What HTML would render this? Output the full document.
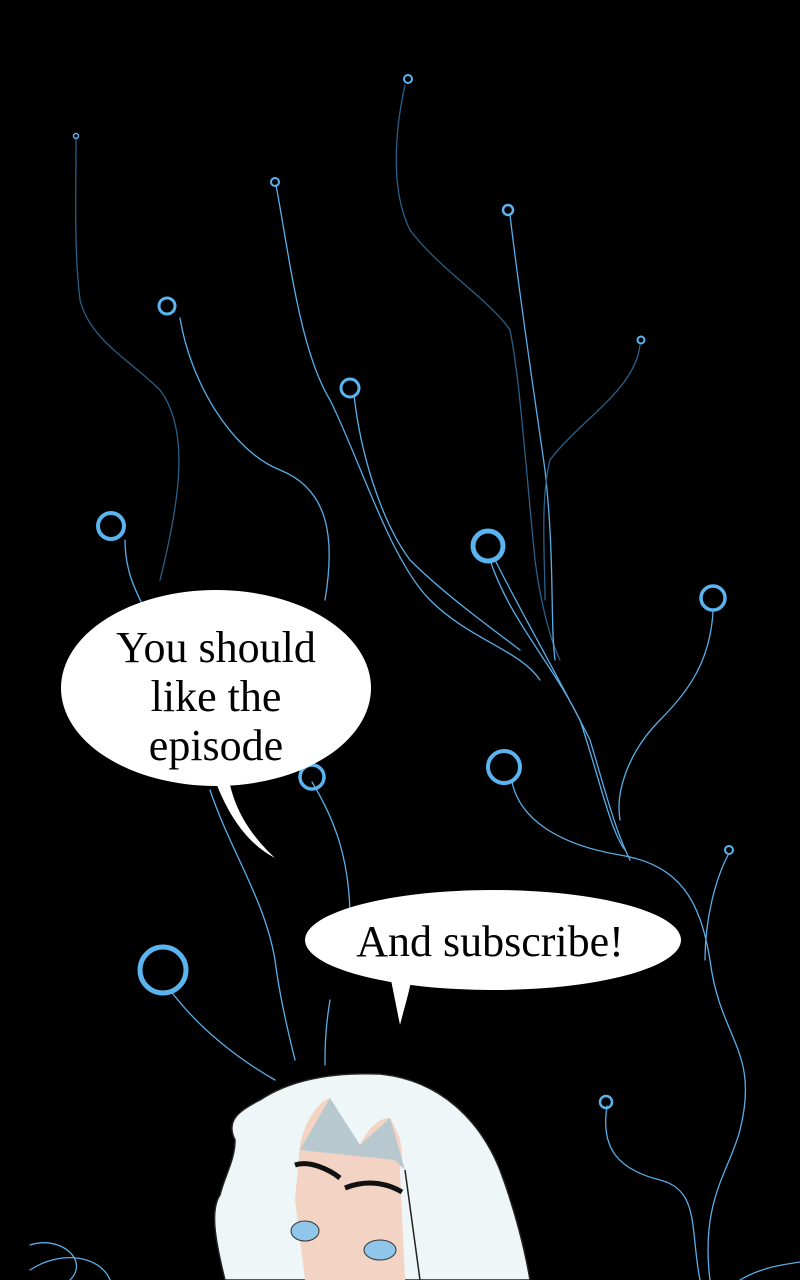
<!DOCTYPE html>
<html><head><style>
html,body{margin:0;padding:0;background:#000;}
body{width:800px;height:1280px;position:relative;overflow:hidden;font-family:"Liberation Serif",serif;}
svg{position:absolute;left:0;top:0;}
</style></head><body>
<svg width="800" height="1280" viewBox="0 0 800 1280">
<g fill="none" stroke="#5aaee8" stroke-width="1.3" stroke-linecap="round">
<path d="M76 138 C76 200 74 250 80 300 C90 340 130 360 160 390 C190 430 180 500 160 580" stroke="#2a5f88"/>
<path d="M180 318 C190 380 230 450 280 470 C330 490 335 540 325 600"/>
<path d="M276 185 C290 260 300 350 330 400 C360 460 390 560 430 600 C470 640 520 650 540 680"/>
<path d="M354 395 C360 450 380 520 410 560 C440 590 480 620 520 650"/>
<path d="M405 85 C395 130 390 190 410 230 C440 270 490 300 510 330 C520 380 525 460 535 560 C540 600 550 640 560 660" stroke="#2a5f88"/>
<path d="M510 215 C520 300 535 400 545 470 C555 560 550 620 555 660"/>
<path d="M640 345 C635 390 580 420 550 460 C540 500 545 560 545 600" stroke="#2a5f88"/>
<path d="M490 560 C510 620 550 660 580 720 C600 780 610 830 625 850"/>
<path d="M495 560 C520 610 560 680 590 740 C605 790 615 830 630 860"/>
<path d="M713 612 C710 660 690 690 660 720 C630 750 615 790 620 820"/>
<path d="M512 782 C520 820 560 845 620 855 C680 865 700 900 710 960 C720 1040 760 1050 740 1130 C730 1170 700 1200 710 1280"/>
<path d="M728 855 C715 880 705 920 705 960"/>
<path d="M607 1106 C600 1150 620 1170 660 1180 C700 1190 690 1230 700 1280"/>
<path d="M312 782 C335 820 350 860 350 920"/>
<path d="M210 790 C230 850 265 900 275 960 C280 1000 290 1040 295 1060"/>
<path d="M170 990 C200 1030 240 1060 275 1080"/>
<path d="M125 540 C125 570 135 590 145 610"/>
<path d="M330 1000 C325 1030 325 1050 325 1065"/>
<path d="M30 1245 C60 1235 90 1260 70 1280 M30 1270 C60 1250 100 1255 110 1280"/>
<path d="M740 1280 C760 1268 780 1265 800 1262"/>
</g>
<g fill="none" stroke="#5ab4f0" stroke-width="3">
<circle cx="76" cy="136" r="2.5" stroke-width="1.5"/>
<circle cx="275" cy="182" r="4" stroke-width="2"/>
<circle cx="408" cy="79" r="4" stroke-width="2"/>
<circle cx="508" cy="210" r="5" stroke-width="2.5"/>
<circle cx="641" cy="340" r="3.5" stroke-width="2"/>
<circle cx="167" cy="306" r="8"/>
<circle cx="350" cy="388" r="9"/>
<circle cx="111" cy="526" r="13" stroke-width="4"/>
<circle cx="488" cy="546" r="15" stroke-width="5"/>
<circle cx="713" cy="598" r="12" stroke-width="3.5"/>
<circle cx="504" cy="767" r="16" stroke-width="4"/>
<circle cx="312" cy="777" r="12" stroke-width="3.5"/>
<circle cx="729" cy="850" r="4" stroke-width="2"/>
<circle cx="163" cy="970" r="23" stroke-width="5"/>
<circle cx="606" cy="1102" r="6" stroke-width="2.5"/>
</g>
<!-- hair -->
<path d="M235 1140 C225 1120 240 1110 260 1100 C290 1080 330 1072 380 1074 C440 1080 480 1120 500 1170 C515 1210 525 1250 530 1280 L225 1280 C215 1240 210 1210 220 1195 C225 1175 235 1160 235 1140 Z" fill="#eef6f8" stroke="#222" stroke-width="1.5"/>
<path d="M300 1145 C305 1120 320 1100 330 1098 C345 1120 350 1140 360 1145 C370 1125 380 1118 390 1118 C400 1135 405 1150 400 1170 L405 1280 L305 1280 L295 1200 Z" fill="#f3d3c4"/>
<path d="M300 1150 L330 1098 L360 1145 L390 1118 L405 1170 L395 1160 Z" fill="#b8c8cf"/>
<path d="M295 1165 C310 1160 330 1170 340 1178" stroke="#111" stroke-width="5" fill="none"/>
<path d="M345 1188 C365 1180 385 1182 402 1192" stroke="#111" stroke-width="5" fill="none"/>
<ellipse cx="305" cy="1231" rx="14" ry="10" fill="#8fc6ea" stroke="#333"/>
<ellipse cx="380" cy="1250" rx="16" ry="10" fill="#8fc6ea" stroke="#333"/>
<path d="M405 1170 L420 1280" stroke="#222" stroke-width="1.5"/>
<!-- bubbles -->
<path d="M215 780 C230 820 250 845 275 858 C245 830 235 805 230 785 Z" fill="#fff"/>
<ellipse cx="216" cy="688" rx="155" ry="98" fill="#fff"/>
<path d="M390 975 L400 1025 C405 1005 410 990 412 975 Z" fill="#fff"/>
<ellipse cx="493" cy="940" rx="188" ry="50" fill="#fff"/>
<g font-family="Liberation Serif, serif" font-size="44" fill="#000" text-anchor="middle">
<text x="216" y="662">You should</text>
<text x="216" y="711">like the</text>
<text x="216" y="760">episode</text>
<text x="490" y="956">And subscribe!</text>
</g>
</svg>
</body></html>
